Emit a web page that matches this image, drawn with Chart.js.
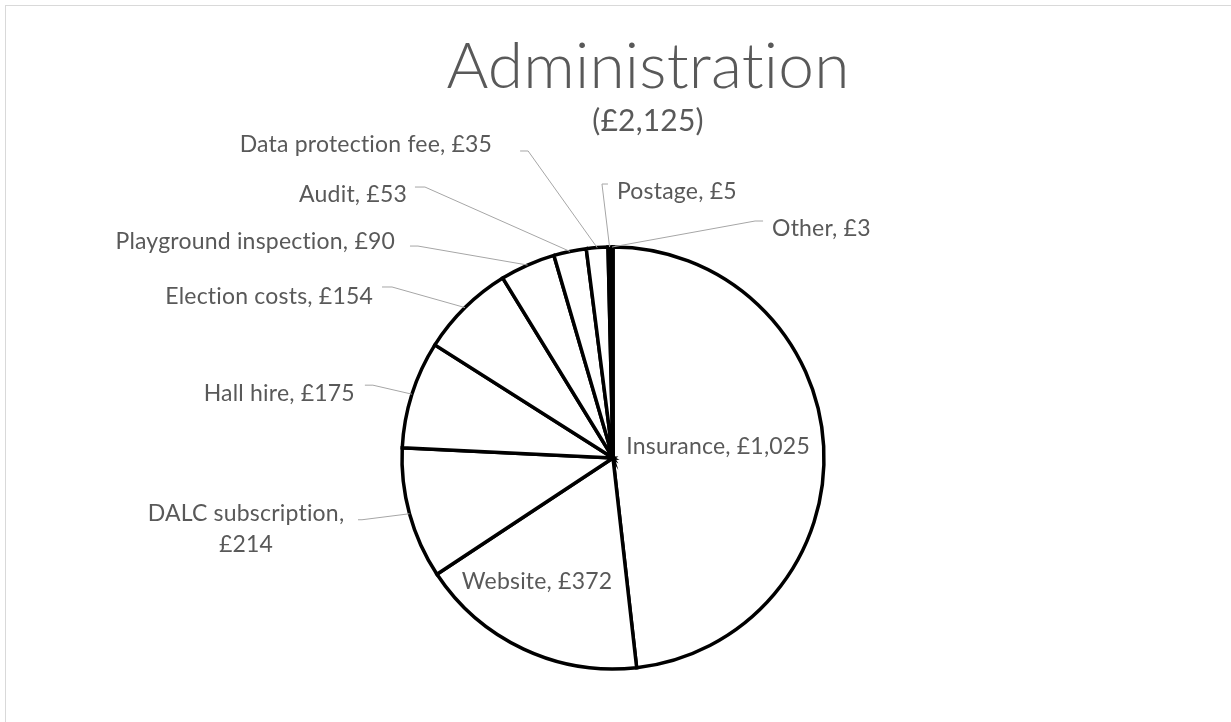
<!DOCTYPE html>
<html>
<head>
<meta charset="utf-8">
<script src="https://cdn.jsdelivr.net/npm/chart.js@4.4.1/dist/chart.umd.min.js"></script>
<style>
  html, body { margin: 0; padding: 0; background: #fff; overflow: hidden; }
  canvas { display: block; }
</style>
</head>
<body>
<canvas id="chart" width="1231" height="722"></canvas>
<script>
// Administration spend pie (Excel-style, white slices, black outlines)

const categories = ["Insurance", "Website", "DALC subscription", "Hall hire", "Election costs",
  "Playground inspection", "Audit", "Data protection fee", "Postage", "Other"];
const amounts = [1025, 372, 214, 175, 154, 90, 53, 35, 5, 3];
const chartTitle = "Administration";
const chartSubtitle = "(£2,125)";

function money(v){ return "£" + Number(v).toLocaleString("en-GB"); }

// Where each data label sits. Inside labels: offset from the centre in radius units.
// Outside labels: bend point relative to the slice's edge anchor, a short horizontal tick,
// then the text offset from the end of the tick.
const labelLayout = [
  { inside: true, fx: 0.498, fy: -0.052 },
  { inside: true, fx: -0.36, fy: 0.588 },
  { bend: [-47.5, 6],   tick: -4,  text: [-112, -6], align: "center", wrap: true },
  { bend: [-39, -9],    tick: -8,  text: [-10, 8],   align: "right" },
  { bend: [-73, -20.6], tick: -10, text: [-9, 10],   align: "right" },
  { bend: [-109.6, -19],tick: -8,  text: [-15, -4],  align: "right" },
  { bend: [-145, -64.4],tick: -10, text: [-8, 8],    align: "right" },
  { bend: [-69, -96.6], tick: -8,  text: [-28, -6],  align: "right" },
  { bend: [-7.6, -63],  tick: 6,   text: [9, 8],     align: "left" },
  { bend: [143, -26],   tick: 8,   text: [9, 8],     align: "left" }
];

const TEXT = "#595959";
const LEADER = "#a6a6a6";
const LABEL_FONT = "23px Lato";

function noLigatures(ctx){
  // a tiny letter spacing stops Lato from joining "ti"
  if("letterSpacing" in ctx) ctx.letterSpacing = "0.2px";
}

const frame = {
  id: "frame",
  beforeDraw(chart){
    const {ctx} = chart;
    ctx.save();
    ctx.strokeStyle = "#d9d9d9";
    ctx.lineWidth = 1;
    ctx.strokeRect(5.5, 5.5, 3000, 3000);
    ctx.fillStyle = TEXT;
    ctx.textAlign = "center";
    ctx.textBaseline = "alphabetic";
    noLigatures(ctx);
    ctx.font = "300 64px Lato";
    ctx.fillText(chartTitle, 648, 88);
    ctx.font = "30px Lato";
    ctx.fillText(chartSubtitle, 648, 131);
    ctx.restore();
  }
};

const dataLabels = {
  id: "dataLabels",
  afterDatasetsDraw(chart){
    const {ctx} = chart;
    const meta = chart.getDatasetMeta(0);
    ctx.save();
    ctx.font = LABEL_FONT;
    ctx.fillStyle = TEXT;
    ctx.textBaseline = "middle";
    noLigatures(ctx);
    meta.data.forEach((arc, i) => {
      const p = arc.getProps(["x", "y", "startAngle", "endAngle", "outerRadius"], true);
      const lay = labelLayout[i];
      const text = `${categories[i]}, ${money(amounts[i])}`;
      if(lay.inside){
        ctx.textAlign = "center";
        ctx.fillText(text, p.x + lay.fx * p.outerRadius, p.y + lay.fy * p.outerRadius);
        return;
      }
      const mid = (p.startAngle + p.endAngle) / 2;
      const ax = p.x + Math.cos(mid) * p.outerRadius;
      const ay = p.y + Math.sin(mid) * p.outerRadius;
      const bx = ax + lay.bend[0], by = ay + lay.bend[1];
      const ex = bx + lay.tick;
      ctx.strokeStyle = LEADER;
      ctx.lineWidth = 1;
      ctx.beginPath();
      ctx.moveTo(ax, ay);
      ctx.lineTo(bx, by);
      ctx.lineTo(ex, by);
      ctx.stroke();
      ctx.textAlign = lay.align;
      const tx = ex + lay.text[0], ty = by + lay.text[1];
      if(lay.wrap){
        ctx.fillText(`${categories[i]},`, tx, ty);
        ctx.fillText(money(amounts[i]), tx, ty + 31);
      } else {
        ctx.fillText(text, tx, ty);
      }
    });
    ctx.restore();
  }
};

new Chart(document.getElementById("chart").getContext("2d"), {
  type: "pie",
  data: {
    labels: categories,
    datasets: [{
      data: amounts,
      backgroundColor: "#ffffff",
      borderColor: "#000000",
      borderWidth: 3.5,
      borderJoinStyle: "miter"
    }]
  },
  options: {
    responsive: false,
    animation: false,
    devicePixelRatio: 1,
    radius: 211,
    layout: { padding: { left: 402, right: 407, top: 247, bottom: 53 } },
    plugins: {
      legend: { display: false },
      tooltip: { enabled: false },
      title: { display: false }
    }
  },
  plugins: [frame, dataLabels]
});
</script>
</body>
</html>
